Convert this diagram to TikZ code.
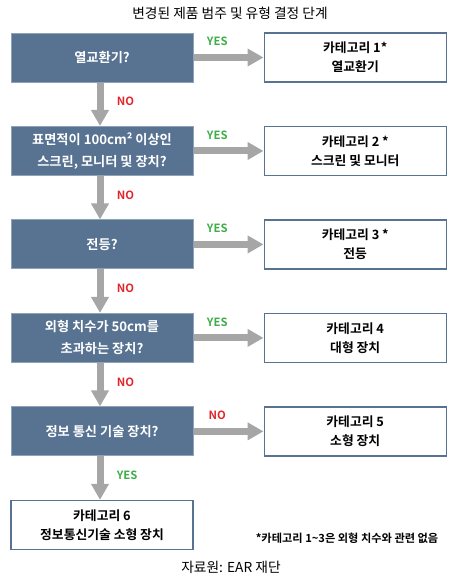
\documentclass[tikz,border=0pt]{standalone}
\usepackage{fontspec}
\setmainfont{Noto Sans CJK KR}[BoldFont={Noto Sans CJK KR Bold}]
\usepackage{xcolor}
\usetikzlibrary{positioning, arrows.meta}
\definecolor{slateblue}{HTML}{587392}
\definecolor{slateedge}{HTML}{8FA2B7}
\definecolor{arrowgray}{HTML}{A6A6A6}
\definecolor{yesgreen}{HTML}{3DAE49}
\definecolor{nored}{HTML}{E0262B}

\tikzset{
  question/.style={fill=slateblue, draw=slateedge, line width=0.75pt, text=white,
    font=\bfseries\fontsize{9.9}{16.5}\selectfont, align=center,
    minimum width=136.5pt, minimum height=36.75pt, inner sep=0pt},
  category/.style={fill=white, draw=slateblue, line width=1.1pt,
    font=\bfseries\fontsize{9.6}{14.25}\selectfont, align=center,
    minimum width=136.5pt, minimum height=36.75pt, inner sep=0pt},
  flow/.style={draw=arrowgray, line width=5.25pt, -{Triangle[width=12.75pt, length=12pt]}},
  answer/.style={font=\bfseries\fontsize{8.5}{10}\selectfont, inner sep=0pt},
  yeslabel/.style={answer, text=yesgreen},
  nolabel/.style={answer, text=nored}
}

\begin{document}
\begin{tikzpicture}[x=0.75pt, y=-0.75pt]
  \useasboundingbox (0,0) rectangle (458,586);

  % title
  \node[font=\fontsize{10.3}{12}\selectfont] (title) at (230,13) {변경된 제품 범주 및 유형 결정 단계};

  % questions, left column
  \node[question] (q1) at (102,57.5) {열교환기?};
  \node[question, below=32.6pt of q1] (q2) {표면적이 100cm² 이상인\\스크린, 모니터 및 장치?};
  \node[question, below=32.6pt of q2] (q3) {전등?};
  \node[question, below=32.6pt of q3] (q4) {외형 치수가 50cm를\\초과하는 장치?};
  \node[question, below=32.6pt of q4] (q5) {정보 통신 기술 장치?};
  \node[category, below=32.6pt of q5] (c6) {카테고리 6\\정보통신기술 소형 장치};

  % categories, right column
  \node[category, right=52.5pt of q1] (c1) {카테고리 1*\\열교환기};
  \node[category, right=52.5pt of q2] (c2) {카테고리 2 *\\스크린 및 모니터};
  \node[category, right=52.5pt of q3] (c3) {카테고리 3 *\\전등};
  \node[category, right=52.5pt of q4] (c4) {카테고리 4\\대형 장치};
  \node[category, right=52.5pt of q5] (c5) {카테고리 5\\소형 장치};

  % horizontal arrows
  \draw[flow] (q1) -- (c1) node[yeslabel, pos=0.34, above=6pt] {YES};
  \draw[flow] (q2) -- (c2) node[yeslabel, pos=0.34, above=6pt] {YES};
  \draw[flow] (q3) -- (c3) node[yeslabel, pos=0.34, above=6pt] {YES};
  \draw[flow] (q4) -- (c4) node[yeslabel, pos=0.34, above=6pt] {YES};
  \draw[flow] (q5) -- (c5) node[nolabel, pos=0.34, above=6pt] {NO};

  % vertical arrows
  \draw[flow] ([xshift=-1.5pt]q1.south) -- ([xshift=-1.5pt]q2.north) node[nolabel, pos=0.44, right=10pt] {NO};
  \draw[flow] ([xshift=-1.5pt]q2.south) -- ([xshift=-1.5pt]q3.north) node[nolabel, pos=0.44, right=10pt] {NO};
  \draw[flow] ([xshift=-1.5pt]q3.south) -- ([xshift=-1.5pt]q4.north) node[nolabel, pos=0.44, right=10pt] {NO};
  \draw[flow] ([xshift=-1.5pt]q4.south) -- ([xshift=-1.5pt]q5.north) node[nolabel, pos=0.44, right=10pt] {NO};
  \draw[flow] ([xshift=-1.5pt]q5.south) -- ([xshift=-1.5pt]c6.north) node[yeslabel, pos=0.44, right=10pt] {YES};

  % note and source
  \node[font=\bfseries\fontsize{8.4}{10}\selectfont, anchor=east] (note) at (443,538) {*카테고리 1\textasciitilde3은 외형 치수와 관련 없음};
  \node[font=\fontsize{10.3}{12}\selectfont] (source) at (231,567) {자료원: EAR 재단};
\end{tikzpicture}
\end{document}
